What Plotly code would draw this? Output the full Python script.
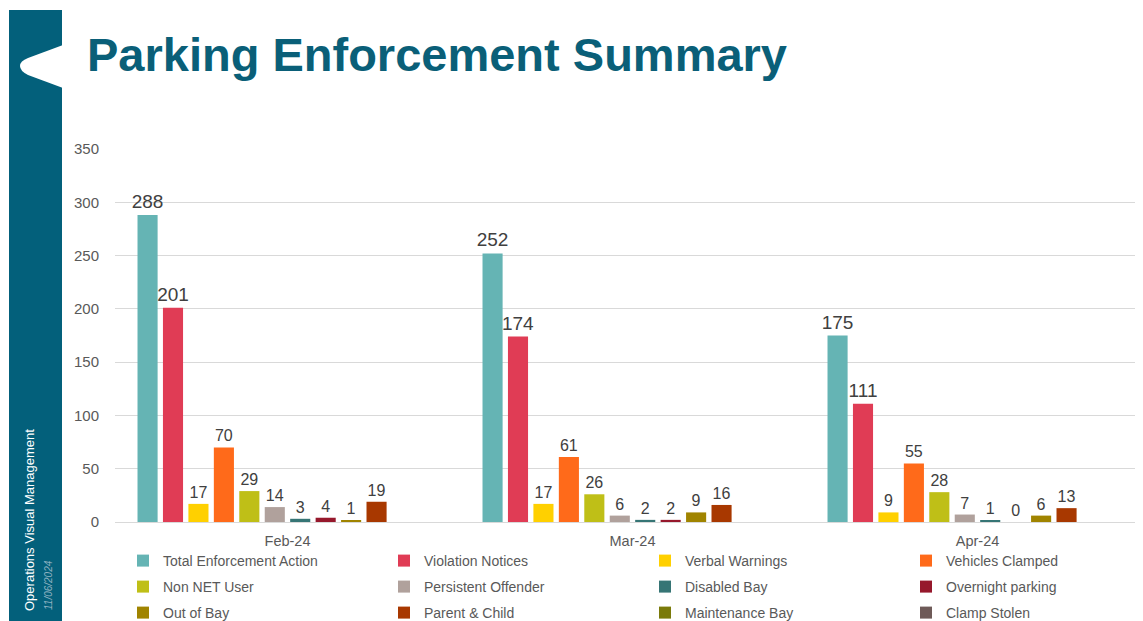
import plotly.graph_objects as go

months = ["Feb-24", "Mar-24", "Apr-24"]

series_names = [
    "Total Enforcement Action", "Violation Notices", "Verbal Warnings", "Vehicles Clamped",
    "Non NET User", "Persistent Offender", "Disabled Bay", "Overnight parking",
    "Out of Bay", "Parent & Child", "Maintenance Bay", "Clamp Stolen",
]

total_enforcement = [288, 252, 175]
violation_notices = [201, 174, 111]
verbal_warnings = [17, 17, 9]
vehicles_clamped = [70, 61, 55]
non_net_user = [29, 26, 28]
persistent_offender = [14, 6, 7]
disabled_bay = [3, 2, 1]
overnight_parking = [4, 2, 0]
out_of_bay = [1, 9, 6]
parent_child = [19, 16, 13]
maintenance_bay = [None, None, None]
clamp_stolen = [None, None, None]

series_values = [
    total_enforcement, violation_notices, verbal_warnings, vehicles_clamped,
    non_net_user, persistent_offender, disabled_bay, overnight_parking,
    out_of_bay, parent_child, maintenance_bay, clamp_stolen,
]

colors = [
    "#65b4b4", "#e03c55", "#ffd000", "#ff6a1a",
    "#bfbf17", "#b0a19c", "#367575", "#96182c",
    "#a08400", "#a83800", "#7a7a0a", "#6e5a58",
]

W, H = 1143, 621
OFF = 8  # page body offset
ML, MR, MT, MB = 115 - OFF, 0, 149 - OFF, H - (522 - OFF)
PW = W - ML - MR
PH = H - MT - MB


def px(sx):
    return (sx - OFF - ML) / PW


def py(sy):
    return (H - MB - (sy - OFF)) / PH


fig = go.Figure()
legends = ["legend", "legend2", "legend3"]
for i, (name, vals, col) in enumerate(zip(series_names, series_values, colors)):
    fig.add_trace(go.Bar(
        name=name, x=months, y=vals, marker_color=col, marker_line_width=0,
        text=vals, texttemplate="%{y}", textposition="outside",
        textfont=dict(size=19 if i < 2 else 16, color="#404040", family="Liberation Sans, Arial"),
        cliponaxis=False, constraintext="none",
        legend=legends[i // 4],
    ))

leg_common = dict(orientation="h", entrywidth=201, entrywidthmode="pixels",
                  xanchor="left", yanchor="middle", bgcolor="rgba(0,0,0,0)",
                  font=dict(size=14, color="#595959", family="Liberation Sans, Arial"),
                  x=px(108), indentation=15)

shapes = [
    dict(type="rect", xref="paper", yref="paper", x0=px(9), x1=px(62), y0=py(10), y1=py(640),
         fillcolor="#03607b", line_width=0, layer="above"),
    dict(type="path", xref="paper", yref="paper",
         path=(f"M{px(63)},{py(45)} L{px(28)},{py(58)} Q{px(20)},{py(61)} {px(20)},{py(66)} "
               f"Q{px(20)},{py(71)} {px(28)},{py(75)} L{px(63)},{py(88)} Z"),
         fillcolor="white", line_width=0, layer="above"),
]

annotations = [
    dict(text="<b>Parking Enforcement Summary</b>", xref="paper", yref="paper",
         x=px(85), y=py(26), xanchor="left", yanchor="top", showarrow=False,
         font=dict(size=47, color="#0a5f78", family="Liberation Sans, Arial")),
    dict(text="Operations Visual Management", xref="paper", yref="paper",
         x=px(29), y=py(520), xanchor="center", yanchor="middle", showarrow=False, textangle=-90,
         font=dict(size=13, color="white", family="Liberation Sans, Arial")),
    dict(text="<i>11/06/2024</i>", xref="paper", yref="paper",
         x=px(48), y=py(585), xanchor="center", yanchor="middle", showarrow=False, textangle=-90,
         font=dict(size=10, color="#8fb3c2", family="Liberation Sans, Arial")),
]

fig.update_layout(
    width=W, height=H, autosize=False,
    margin=dict(l=ML, r=MR, t=MT, b=MB, pad=0, autoexpand=False),
    paper_bgcolor="white", plot_bgcolor="white",
    barmode="group", bargap=0.115, bargroupgap=0.21,
    font=dict(family="Liberation Sans, Arial", color="#595959"),
    xaxis=dict(type="category", categoryorder="array", categoryarray=months,
               range=[-0.5, -0.5 + PW / 345.0], showgrid=False, showline=False, zeroline=False,
               ticks="", tickfont=dict(size=14.5, color="#595959"), ticklabelstandoff=8,
               fixedrange=True),
    yaxis=dict(range=[0, 350], dtick=50, showgrid=True, gridcolor="#d9d9d9", gridwidth=1,
               zeroline=True, zerolinecolor="#d9d9d9", zerolinewidth=1, showline=False,
               ticks="", tickfont=dict(size=15, color="#595959"), ticklabelstandoff=15,
               fixedrange=True),
    legend=dict(leg_common, y=py(561)),
    legend2=dict(leg_common, y=py(587)),
    legend3=dict(leg_common, y=py(613)),
    shapes=shapes,
    annotations=annotations,
)

fig.write_html("out.html")
